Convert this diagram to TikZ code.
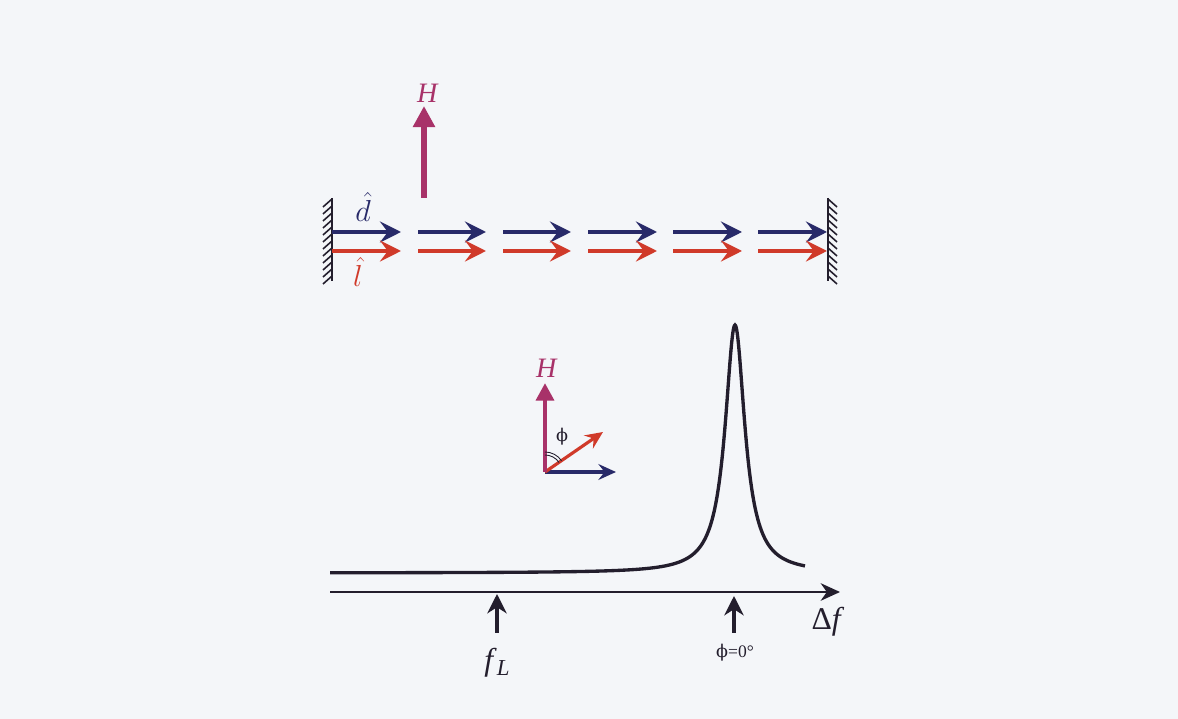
\documentclass[tikz,border=0pt]{standalone}
\usepackage{fontspec}
\setmainfont{Liberation Serif}
\newfontfamily\dvs{DejaVu Serif}
\usetikzlibrary{arrows.meta}
\definecolor{bg}{RGB}{244,246,249}
\definecolor{navy}{RGB}{40,42,105}
\definecolor{rred}{RGB}{208,58,42}
\definecolor{hmag}{RGB}{168,50,105}
\definecolor{ink}{RGB}{35,30,45}
\begin{document}
\begin{tikzpicture}[x=0.02cm,y=-0.02cm,
  darr/.style={navy, line width=2.1pt, -{Stealth[length=12pt,width=12pt,inset=4.5pt]}},
  larr/.style={rred, line width=2.1pt, -{Stealth[length=12pt,width=12pt,inset=4.5pt]}},
  harr/.style={hmag, line width=3pt, -{Triangle[length=12pt,width=12pt]}},
  smallarr/.style={line width=1.8pt, -{Stealth[length=10pt,width=9pt,inset=3.5pt]}},
  axarr/.style={ink, line width=1.3pt, -{Stealth[length=11pt,width=10pt,inset=3.5pt]}},
  tickarr/.style={ink, line width=2pt, -{Stealth[length=11pt,width=11pt,inset=3.5pt]}},
  wall/.style={ink, line width=1.4pt},
  hatch/.style={ink, line width=0.9pt},
  lbl/.style={font=\fontsize{16}{19}\selectfont, inner sep=0pt},
  blbl/.style={font=\fontsize{18}{21}\selectfont, inner sep=0pt},
  slbl/.style={font=\fontsize{10}{12}\selectfont, inner sep=0pt}]
\fill[bg] (0,0) rectangle (1178,719);
\useasboundingbox (0,0) rectangle (1178,719);

% walls
\coordinate (lw0) at (332,198);
\coordinate (lw1) at (332,281);
\coordinate (rw0) at (828,198);
\coordinate (rw1) at (828,281);
\draw[wall] (lw0) -- (lw1);
\draw[wall] (rw0) -- (rw1);
\foreach \yy in {199,206,...,276} {
  \draw[hatch] (332,\yy) -- ++(-9,8);
  \draw[hatch] (828,\yy) -- ++(9,8);
}

% arrow chain
\foreach \s/\e [count=\i] in {332/401,418/486,503/571,588/657,673/742,758/827} {
  \coordinate (ds\i) at (\s,232); \coordinate (de\i) at (\e,232);
  \coordinate (ls\i) at (\s,251); \coordinate (le\i) at (\e,251);
  \draw[darr] (ds\i) -- (de\i);
  \draw[larr] (ls\i) -- (le\i);
}

% H arrow
\coordinate (h0) at (424,198);
\coordinate (h1) at (424,106);
\draw[harr] (h0) -- (h1);
\node[lbl, hmag] (Hlab) at (428,93) {\textit{H}};
\node[blbl, navy, anchor=base] (dlab) at (363,222) {$\hat{d}$};
\node[blbl, navy, anchor=north] (llab) at (358,257) {\color{rred}$\hat{l}$};

% inset
\coordinate (O) at (545,472);
\coordinate (Ht) at (545,383);
\coordinate (Bt) at (616,472);
\coordinate (Rt) at (603,432);
\draw[smallarr, navy] (O) -- (Bt);
\draw[smallarr, rred] (O) -- (Rt);
\draw[hmag, line width=2.6pt, -{Triangle[length=10pt,width=10pt]}] (O) -- (Ht);
\node[lbl, hmag] (H2) at (547,368) {\textit{H}};
\draw[ink, line width=0.5pt] ([shift={(-34:17)}]O) arc[start angle=-34, end angle=-90, radius=17];
\draw[ink, line width=0.5pt] ([shift={(-34:20)}]O) arc[start angle=-34, end angle=-90, radius=20];
\node[slbl, ink] (phi1) at (562,437) {\dvs ϕ};

% spectrum
\draw[ink, line width=1.9pt] plot[domain=330:805, samples=700, smooth] (\x,{573-248/(1+((\x-735)/12)^2)});
\coordinate (ax0) at (330,592);
\coordinate (ax1) at (840,592);
\draw[axarr] (ax0) -- (ax1);
\node[blbl, ink] (df) at (828,622) {Δ\textit{f}};

\coordinate (fl0) at (497,633);
\coordinate (fl1) at (497,594);
\draw[tickarr] (fl0) -- (fl1);
\node[blbl, ink] (fL) at (497,663) {\textit{f}\raisebox{-0.35ex}{\fontsize{13}{14}\selectfont\textit{L}}};

\coordinate (p0) at (734,633);
\coordinate (p1) at (734,596);
\draw[tickarr] (p0) -- (p1);
\node[slbl, ink] (phi0) at (735,653) {{\dvs ϕ}=0°};
\end{tikzpicture}
\end{document}
